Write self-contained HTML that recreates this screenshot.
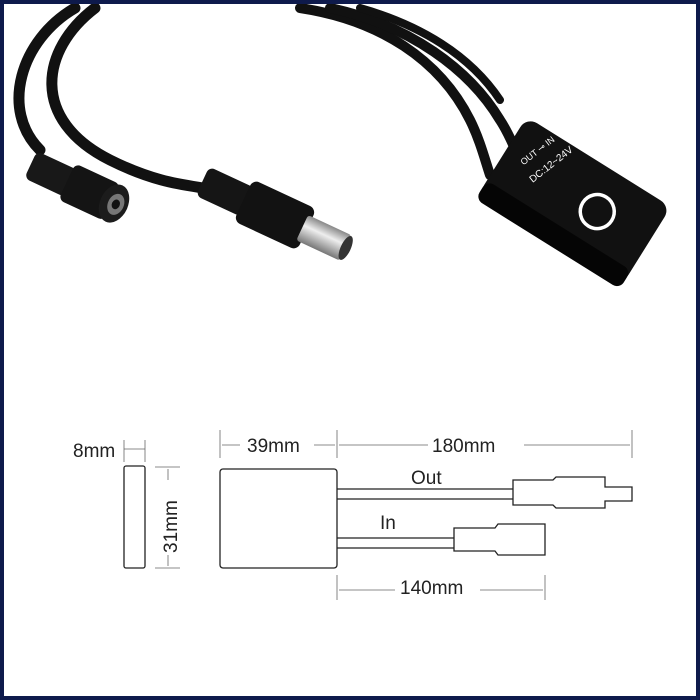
<!DOCTYPE html>
<html><head><style>
html,body{margin:0;padding:0;background:#fff}
.wrap{width:700px;height:700px;position:relative;box-sizing:border-box;border:4px solid #0e1a4c;background:#fff;overflow:hidden}
svg{position:absolute;left:-4px;top:-4px}
text{font-family:"Liberation Sans",sans-serif}
</style></head><body><div class="wrap">
<svg width="700" height="700" viewBox="0 0 700 700">
<defs>
<linearGradient id="metal" x1="0" y1="0" x2="0" y2="1"><stop offset="0" stop-color="#888"/><stop offset="0.4" stop-color="#eee"/><stop offset="1" stop-color="#777"/></linearGradient>
</defs>
<g fill="none" stroke="#111" stroke-linecap="round">
<path d="M75 8 C20 40 0 110 40 150" stroke-width="11"/>
<path d="M95 8 C40 50 30 120 110 160 C160 185 190 185 215 190" stroke-width="11"/>
<path d="M300 8 C380 20 440 60 470 120 C480 140 485 160 490 175" stroke-width="10"/>
<path d="M330 8 C410 25 470 70 500 120 C510 135 515 150 520 160" stroke-width="10"/>
<path d="M360 8 C420 25 470 55 500 100" stroke-width="8"/>
</g>
<g transform="translate(85,190) rotate(25)">
<rect x="-60" y="-15" width="45" height="30" rx="6" fill="#181818"/>
<rect x="-20" y="-20" width="50" height="40" rx="6" fill="#141414"/>
<ellipse cx="32" cy="0" rx="14" ry="20" fill="#1c1c1c"/>
<ellipse cx="34" cy="0" rx="8" ry="11" fill="#777"/>
<ellipse cx="34" cy="0" rx="4" ry="5" fill="#111"/>
</g>
<g transform="translate(275,215) rotate(25)">
<rect x="-80" y="-16" width="50" height="32" rx="6" fill="#151515"/>
<rect x="-35" y="-23" width="70" height="46" rx="7" fill="#121212"/>
<rect x="30" y="-14" width="48" height="28" rx="3" fill="url(#metal)"/>
<ellipse cx="78" cy="0" rx="5" ry="13" fill="#333"/>
</g>
<g transform="translate(575,200) rotate(32)">
<rect x="-85" y="-45" width="170" height="92" rx="12" fill="#111"/>
<rect x="-85" y="30" width="170" height="22" rx="8" fill="#050505"/>
<text x="-62" y="-2" fill="#fff" font-size="9" transform="rotate(-70 -62 -2)">OUT ⊸ IN</text>
<text x="-45" y="8" fill="#fff" font-size="10" transform="rotate(-70 -45 8)">DC:12~24V</text>
<circle cx="25" cy="-2" r="17" fill="none" stroke="#fff" stroke-width="3.5"/>
</g>
<g stroke="#222" fill="none" stroke-width="1.3">
<rect x="124" y="466" width="21" height="102" rx="2"/>
<rect x="220" y="469" width="117" height="99" rx="3"/>
<path d="M337 489 H513 M337 499 H513"/>
<path d="M513 480 L553 480 L556 477 L605 477 L605 487 L632 487 L632 501 L605 501 L605 508 L556 508 L553 505 L513 505 Z"/>
<path d="M337 538 H454 M337 548 H454"/>
<path d="M454 528 L495 528 L498 524 L545 524 L545 555 L498 555 L495 551 L454 551 Z"/>
</g>
<g stroke="#666" stroke-width="0.8" fill="#444">
<path d="M124 440 V462 M145 440 V462 M124 449 H145"/>
<path d="M220 430 V458 M337 430 V458 M632 430 V458"/>
<path d="M222 445 H240 M314 445 H335 M339 445 H428 M524 445 H630"/>
<path d="M155 467 H180 M155 568 H180 M168 469 V480 M168 555 V566"/>
<path d="M337 575 V600 M545 575 V600 M339 590 H395 M480 590 H543"/>
</g>
<g fill="#222" font-size="19">
<text x="73" y="457">8mm</text>
<text x="247" y="452">39mm</text>
<text x="432" y="452">180mm</text>
<text x="411" y="484">Out</text>
<text x="380" y="529">In</text>
<text x="400" y="594">140mm</text>
<text transform="translate(177,553) rotate(-90)">31mm</text>
</g>
</svg>
</div></body></html>
